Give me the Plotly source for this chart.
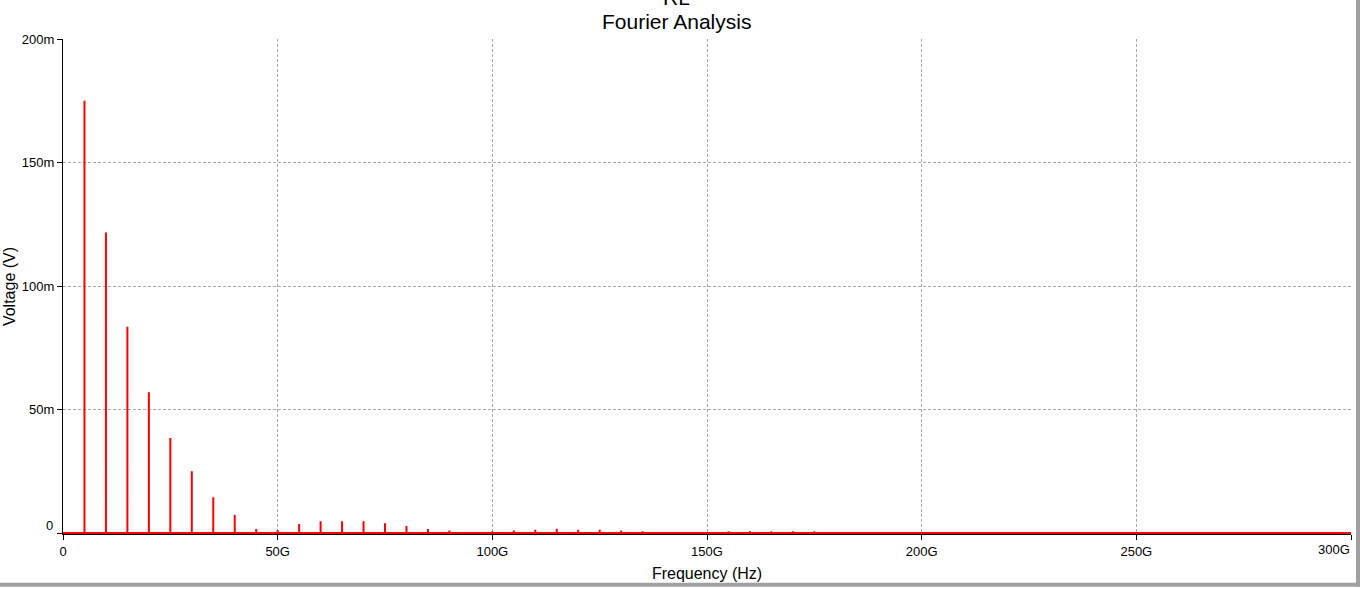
import plotly.graph_objects as go

# ---- data ----
freq_ghz = [5, 10, 15, 20, 25, 30, 35, 40, 45, 50, 55, 60, 65, 70, 75, 80, 85, 90,
            95, 100, 105, 110, 115, 120, 125, 130, 135, 140, 145, 150, 155, 160,
            165, 170, 175]
volt_mv = [175, 121.7, 83.5, 57, 38.5, 25, 14.5, 7.3, 1.6, 1.2, 3.6, 4.8, 4.8, 4.8,
           4.0, 2.8, 1.6, 1.0, 0.2, 0.7, 1.0, 1.3, 1.7, 1.3, 1.3, 1.0, 0.7, 0.1,
           0.1, 0.1, 0.7, 0.7, 0.7, 0.7, 0.7]
x_range_hz = [0, 300e9]
y_range_v = [-0.0004, 0.2]
x_tick_vals = [0, 50e9, 100e9, 150e9, 200e9, 250e9, 300e9]
x_tick_text = ["0", "50G", "100G", "150G", "200G", "250G", "300G"]
y_tick_vals = [0, 0.05, 0.10, 0.15, 0.20]
y_tick_text = ["0", "50m", "100m", "150m", "200m"]
title_lines = ["RL", "Fourier Analysis"]
x_title = "Frequency (Hz)"
y_title = "Voltage (V)"

# ---- build stem line (spectrum drawn as one polyline along the baseline) ----
xs = [x_range_hz[0]]
ys = [0.0]
for f, v in zip(freq_ghz, volt_mv):
    fh = f * 1e9
    xs += [fh, fh, fh]
    ys += [0.0, v / 1000.0, 0.0]
xs.append(x_range_hz[1])
ys.append(0.0)

FONT = "Liberation Sans, Arial, sans-serif"
GRID = "#a8a8a8"

fig = go.Figure()
fig.add_trace(go.Scatter(x=xs, y=ys, mode="lines",
                         line=dict(color="#ff0000", width=2),
                         hoverinfo="skip", showlegend=False))

# tick labels: last x label right-aligned, first y label raised (as in the reference)
x_text_shown = x_tick_text[:-1] + [""]
y_text_shown = [""] + y_tick_text[1:]

fig.update_layout(
    width=1360, height=589,
    margin=dict(l=63, r=9, t=39, b=52),
    paper_bgcolor="white", plot_bgcolor="white",
    font=dict(family=FONT, size=13, color="black"),
    showlegend=False,
    xaxis=dict(range=x_range_hz, tickvals=x_tick_vals, ticktext=x_text_shown,
               showgrid=True, gridcolor=GRID, griddash="3px,2px", gridwidth=1,
               showline=True, linecolor="black", linewidth=1,
               ticks="outside", ticklen=5, tickcolor="black",
               zeroline=False, tickfont=dict(size=13),
               title=dict(text=x_title, font=dict(size=16), standoff=10)),
    yaxis=dict(range=y_range_v, tickvals=y_tick_vals, ticktext=y_text_shown,
               showgrid=True, gridcolor=GRID, griddash="3px,2px", gridwidth=1,
               showline=True, linecolor="black", linewidth=1,
               ticks="outside", ticklen=5, tickcolor="black",
               zeroline=False, tickfont=dict(size=13),
               title=dict(text=y_title, font=dict(size=16), standoff=2)),
)

anns = [
    dict(text=title_lines[0], xref="paper", yref="paper", x=0.4763, y=1,
         xanchor="center", yanchor="middle", yshift=42, showarrow=False,
         font=dict(size=21)),
    dict(text=title_lines[1], xref="paper", yref="paper", x=0.4763, y=1,
         xanchor="center", yanchor="middle", yshift=18, showarrow=False,
         font=dict(size=21)),
    dict(text=x_tick_text[-1], xref="x", yref="paper", x=x_tick_vals[-1], y=0,
         xanchor="right", yanchor="top", yshift=-6, xshift=1, showarrow=False,
         font=dict(size=13)),
    dict(text=y_tick_text[0], xref="paper", yref="y", x=0, y=y_tick_vals[0],
         xanchor="right", yanchor="middle", xshift=-8, yshift=8, showarrow=False,
         font=dict(size=13)),
]
fig.update_layout(annotations=anns)

# window frame edges (right and bottom)
fig.add_shape(type="rect", xref="paper", yref="paper",
              x0=(1356 - 63) / 1288, x1=(1361 - 63) / 1288,
              y0=(537 - 590) / 498, y1=(537 + 1) / 498 + 0.2,
              fillcolor="#a0a0a0", line=dict(width=0), layer="above")
fig.add_shape(type="rect", xref="paper", yref="paper",
              x0=-0.1, x1=(1361 - 63) / 1288,
              y0=(537 - 590) / 498, y1=(537 - 586) / 498,
              fillcolor="#a0a0a0", line=dict(width=0), layer="above")

fig.write_html("out.html",
               config={"displayModeBar": False},
               post_script="document.body.style.margin='0';"
                           "document.body.style.overflow='hidden';")
